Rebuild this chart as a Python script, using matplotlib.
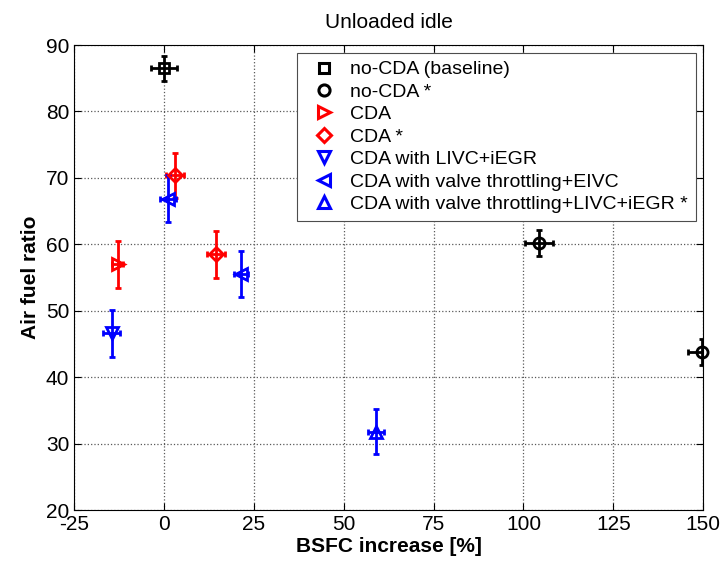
import matplotlib.pyplot as plt
from matplotlib.lines import Line2D

plt.rcParams['font.family'] = ['Liberation Sans', 'DejaVu Sans']
plt.rcParams['axes.unicode_minus'] = False

# series: label, colour, marker, x (BSFC increase %), y (AFR), x error, y error
labels = ["no-CDA (baseline)", "no-CDA *", "CDA", "CDA *",
          "CDA with LIVC+iEGR", "CDA with valve throttling+EIVC",
          "CDA with valve throttling+LIVC+iEGR *"]
colors = ["black", "black", "red", "red", "blue", "blue", "blue"]
markers = ["s", "o", ">", "D", "v", "<", "^"]
msizes = [7, 8, 9, 7, 9, 9, 9]

x_vals = [[0.0], [104.2, 149.6], [-12.8], [3.1, 14.5], [-14.5], [1.1, 21.4], [59.0]]
y_vals = [[86.5], [60.2, 43.8], [57.0], [70.4, 58.5], [46.6], [66.9, 55.5], [31.8]]
x_errs = [[3.6], [3.9, 3.9], [1.5], [2.5, 2.5], [2.4], [2.3, 2.0], [2.2]]
y_errs = [[1.9], [2.0, 2.0], [3.5], [3.4, 3.5], [3.5], [3.5, 3.5], [3.4]]

fig = plt.figure(figsize=(7.22, 5.63), dpi=100)
ax = fig.add_axes([0.1025, 0.094, 0.8715, 0.826])

handles = []
for lab, c, m, ms, xs, ys, xe, ye in zip(labels, colors, markers, msizes,
                                           x_vals, y_vals, x_errs, y_errs):
    eb = ax.errorbar(xs, ys, xerr=xe, yerr=ye, fmt=m, ms=ms, mfc='none', mec=c,
                     mew=2, ecolor=c, elinewidth=2, capsize=2.5, capthick=2,
                     zorder=3)
    eb.lines[0].set_clip_on(False)
    handles.append(Line2D([], [], linestyle='none', marker=m, ms=ms,
                          mfc='none', mec=c, mew=2.2))

ax.set_xlim(-25, 150)
ax.set_ylim(20, 90)
ax.set_xticks(range(-25, 151, 25))
ax.set_yticks(range(20, 91, 10))
ax.tick_params(direction='in', top=True, right=True, labelsize=15, length=5)
ax.grid(True, linestyle=':', color='0.35', linewidth=0.9)
for s in ax.spines.values():
    s.set_linewidth(0.8)

ax.set_title("Unloaded idle", fontsize=15, pad=12)
ax.set_xlabel("BSFC increase [%]", fontsize=15, fontweight='bold', labelpad=2)
ax.set_ylabel("Air fuel ratio", fontsize=15, fontweight='bold', labelpad=4)

leg = ax.legend(handles, labels, loc='upper right', fontsize=14,
                fancybox=False, framealpha=1, edgecolor='0.3',
                handlelength=2.0, handletextpad=0.35, labelspacing=0.25,
                borderpad=0.4, borderaxespad=0,
                bbox_to_anchor=(0.988, 0.983))
leg.get_frame().set_linewidth(0.8)

fig.savefig("out.png", dpi=100)
